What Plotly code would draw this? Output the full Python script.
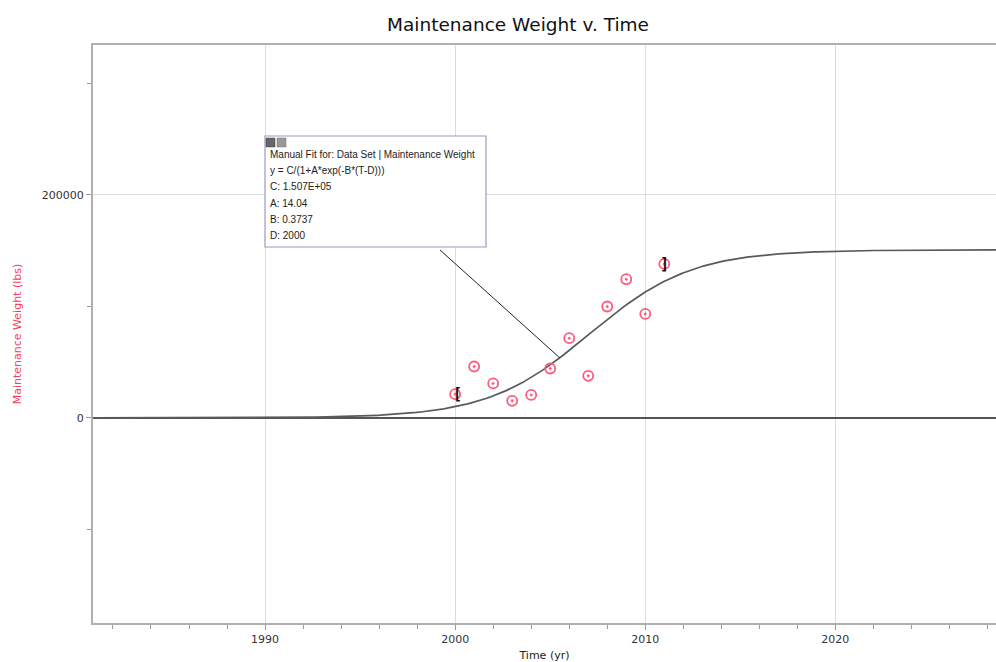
import numpy as np
import plotly.graph_objects as go

# measured data points (year, lbs)
years = [2000, 2001, 2002, 2003, 2004, 2005, 2006, 2007, 2008, 2009, 2010, 2011]
weight = [21300, 46100, 30900, 15300, 20600, 44300, 71500, 37700, 99900, 124400, 93300, 138100]

# manual fit parameters shown in the box
C = 1.507e5
A = 14.04
B = 0.3737
D = 2000

fit_lines = [
    'Manual Fit for: Data Set | Maintenance Weight',
    'y = C/(1+A*exp(-B*(T-D)))',
    'C: 1.507E+05',
    'A: 14.04',
    'B: 0.3737',
    'D: 2000',
]

X_RANGE = [1980.95, 2028.45]
Y_RANGE = [-184000, 334500]

W, H = 996, 662
ML, MR, MT, MB = 93, 0, 45, 39
PW, PH = W - ML - MR, H - MT - MB


def px_x(px):
    return (px - ML) / PW


def px_y(py):
    return (H - MB - py) / PH


def logistic(t):
    return C / (1 + A * np.exp(-B * (np.asarray(t) - D)))


t = np.linspace(X_RANGE[0], X_RANGE[1], 400)

fig = go.Figure()
fig.add_trace(go.Scatter(x=t, y=logistic(t), mode='lines',
                         line=dict(color='#5a5a5a', width=1.7),
                         hoverinfo='skip', showlegend=False))
fig.add_trace(go.Scatter(x=years, y=weight, mode='markers',
                         marker=dict(symbol='circle-open-dot', size=10, color='#ff5a7d',
                                     line=dict(width=1.8, color='#ff5a7d')),
                         showlegend=False))

# range brackets
fig.add_annotation(x=years[0], y=weight[0], text='<b>[</b>', showarrow=False, xshift=2,
                   font=dict(size=15, color='#111', family='DejaVu Sans Mono'))
fig.add_annotation(x=years[-1], y=weight[-1], text='<b>]</b>', showarrow=False, xshift=0,
                   font=dict(size=15, color='#111', family='DejaVu Sans Mono'))

# leader line from the fit box to the curve
leader_t = 2005.5
fig.add_shape(type='line', xref='x', yref='y',
              x0=1999.2, y0=150700, x1=leader_t, y1=float(logistic(leader_t)),
              line=dict(color='#222', width=1))

# fit box
fig.add_shape(type='rect', xref='paper', yref='paper',
              x0=px_x(265), x1=px_x(486), y0=px_y(247), y1=px_y(136),
              fillcolor='white', line=dict(color='#9a98cc', width=1.2), layer='above')
fig.add_shape(type='rect', xref='paper', yref='paper',
              x0=px_x(266), x1=px_x(275), y0=px_y(147), y1=px_y(138),
              fillcolor='#666', line=dict(color='#444', width=0.5), layer='above')
fig.add_shape(type='rect', xref='paper', yref='paper',
              x0=px_x(277), x1=px_x(286), y0=px_y(147), y1=px_y(138),
              fillcolor='#999', line=dict(color='#777', width=0.5), layer='above')
for i, line in enumerate(fit_lines):
    fig.add_annotation(xref='paper', yref='paper', x=px_x(268), y=px_y(154 + i * 16.4),
                       xanchor='left', yanchor='middle', text=line, showarrow=False,
                       font=dict(size=10, color='#222', family='Liberation Sans'))

fig.update_layout(
    width=W, height=H,
    margin=dict(l=ML, r=MR, t=MT, b=MB),
    paper_bgcolor='white', plot_bgcolor='white',
    title=dict(text='Maintenance Weight v. Time', x=518 / W, xanchor='center',
               y=1 - 25 / H, yanchor='middle',
               font=dict(size=18.5, color='#111', family='DejaVu Sans')),
    font=dict(family='DejaVu Sans', size=11, color='#333'),
    xaxis=dict(range=X_RANGE, dtick=10, tick0=1990, showgrid=True, gridcolor='#dcdcdc',
               ticks='outside', ticklen=5, tickcolor='#999',
               minor=dict(dtick=2, ticks='outside', ticklen=4, tickcolor='#999', showgrid=False),
               showline=True, linecolor='#b0b0b0', linewidth=2, mirror=True,
               zeroline=False, title=dict(text='Time (yr)', font=dict(size=11, color='#222'),
                                          standoff=6)),
    yaxis=dict(range=Y_RANGE, dtick=200000, tick0=0, tickformat='d', showgrid=True,
               gridcolor='#dcdcdc', ticks='outside', ticklen=5, tickcolor='#999',
               minor=dict(dtick=100000, ticks='outside', ticklen=4, tickcolor='#999',
                          showgrid=False),
               showline=True, linecolor='#b0b0b0', linewidth=2,
               zeroline=True, zerolinecolor='#555', zerolinewidth=2,
               title=dict(text='Maintenance Weight (lbs)',
                          font=dict(size=11, color='#ff3a5c'), standoff=18)),
)

# page body has a default 8px margin that would push the figure off the window
fig.write_html('out.html', config={'displayModeBar': False},
               post_script="document.body.style.margin='0';")
